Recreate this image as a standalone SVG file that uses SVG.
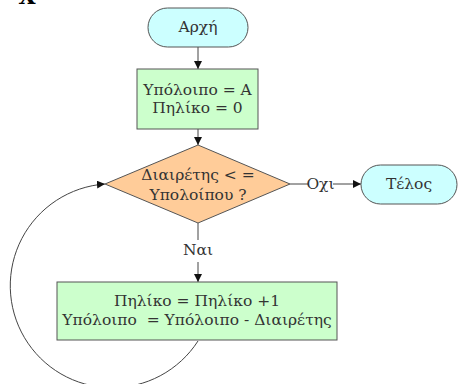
<svg xmlns="http://www.w3.org/2000/svg" width="458" height="384" viewBox="0 0 458 384">
<style>
text{font-family:"DejaVu Serif","Liberation Serif",serif;font-size:15.5px;fill:#333;text-anchor:middle;dominant-baseline:central;white-space:pre}
.term{fill:#ccffff;stroke:#555;stroke-width:1}
.box{fill:#ccffcc;stroke:#555;stroke-width:1}
.dec{fill:#ffcc99;stroke:#555;stroke-width:1}
.ln{fill:none;stroke:#444;stroke-width:1}
</style>
<defs>
<marker id="ah" viewBox="0 0 10 10" refX="10" refY="5" markerWidth="8" markerHeight="8" markerUnits="userSpaceOnUse" orient="auto">
<path d="M0,0 L10,5 L0,10 z" fill="#111"/>
</marker>
</defs>
<rect width="458" height="384" fill="#fff"/>
<text x="27" y="4" style="font-size:22px;font-weight:bold;fill:#000;dominant-baseline:auto">X</text>
<g id="connectors">
<line class="ln" x1="198" y1="47" x2="198" y2="69" marker-end="url(#ah)"/>
<line class="ln" x1="198" y1="129" x2="198" y2="145" marker-end="url(#ah)"/>
<line class="ln" x1="198" y1="223" x2="198" y2="240"/>
<line class="ln" x1="198" y1="262" x2="198" y2="282" marker-end="url(#ah)"/>
<line class="ln" x1="290" y1="184" x2="308" y2="184"/>
<line class="ln" x1="333" y1="184" x2="361" y2="184" marker-end="url(#ah)"/>
<path class="ln" d="M198,341 A102,102 0 1 1 105,184" marker-end="url(#ah)"/>
<text x="198" y="250">Ναι</text>
<text x="320.5" y="184">Οχι</text>
</g>
<g id="start">
<rect class="term" x="148" y="8" width="100" height="39" rx="19.5"/>
<text x="198" y="27">Αρχή</text>
</g>
<g id="init">
<rect class="box" x="137" y="69" width="121" height="60"/>
<text x="197.5" y="90">Υπόλοιπο = Α</text>
<text x="197.5" y="108">Πηλίκο = 0</text>
</g>
<g id="decision">
<polygon class="dec" points="198,145 290,184 198,223 105,184"/>
<text x="198" y="175">Διαιρέτης &lt; =</text>
<text x="198" y="195">Υπολοίπου ?</text>
</g>
<g id="end">
<rect class="term" x="361" y="165" width="96" height="39" rx="19.5"/>
<text x="409" y="184">Τέλος</text>
</g>
<g id="loop">
<rect class="box" x="57" y="282" width="280" height="58"/>
<text x="197" y="301">Πηλίκο = Πηλίκο +1</text>
<text x="197" y="320">Υπόλοιπο  = Υπόλοιπο - Διαιρέτης</text>
</g>
</svg>
